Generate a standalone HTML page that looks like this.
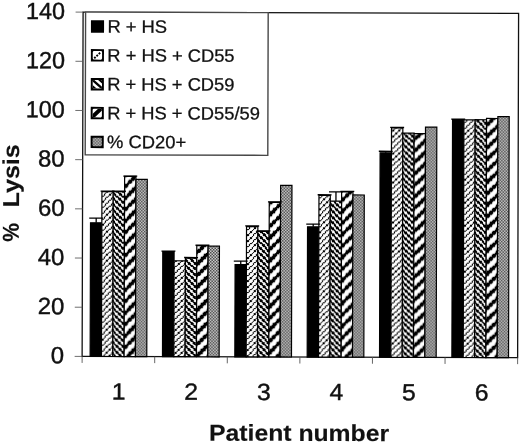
<!DOCTYPE html>
<html><head><meta charset="utf-8"><title>% Lysis by patient number</title>
<style>
html,body{margin:0;padding:0;background:#fff;}
body{width:520px;height:443px;overflow:hidden;font-family:"Liberation Sans",sans-serif;}
svg{display:block;filter:grayscale(1);}
text{font-family:"Liberation Sans",sans-serif;fill:#111;stroke:#111;stroke-width:0.15px;}
.tk{font-size:23.4px;stroke-width:0.42px;}
.lg{font-size:17.9px;stroke-width:0.3px;}
.ti{font-size:23px;font-weight:bold;}
</style></head><body>
<svg width="520" height="443" viewBox="0 0 520 443">
<defs>
<pattern id="p2" width="23" height="23" patternUnits="userSpaceOnUse" patternTransform="translate(0,0)"><rect width="23" height="23" fill="#fff"/><path d="M3.9,-0.1h2.2v1.2h-2.2zM9.9,-0.1h2.2v1.2h-2.2zM15.9,-0.1h1.2v1.2h-1.2zM21.9,-0.1h1.2v1.2h-1.2zM2.9,0.9h1.2v2.2h-1.2zM8.9,0.9h1.2v2.2h-1.2zM13.9,0.9h2.2v2.2h-2.2zM19.9,0.9h2.2v2.2h-2.2zM0.9,2.9h2.2v1.2h-2.2zM6.9,2.9h2.2v1.2h-2.2zM12.9,2.9h1.2v1.2h-1.2zM18.9,2.9h1.2v1.2h-1.2zM-0.1,3.9h1.2v2.2h-1.2zM5.9,3.9h1.2v2.2h-1.2zM11.9,3.9h1.2v2.2h-1.2zM16.9,3.9h2.2v2.2h-2.2zM3.9,5.9h2.2v1.2h-2.2zM9.9,5.9h2.2v1.2h-2.2zM15.9,5.9h1.2v1.2h-1.2zM21.9,5.9h1.2v1.2h-1.2zM2.9,6.9h1.2v2.2h-1.2zM8.9,6.9h1.2v2.2h-1.2zM13.9,6.9h2.2v2.2h-2.2zM19.9,6.9h2.2v2.2h-2.2zM0.9,8.9h2.2v1.2h-2.2zM6.9,8.9h2.2v1.2h-2.2zM12.9,8.9h1.2v1.2h-1.2zM18.9,8.9h1.2v1.2h-1.2zM-0.1,9.9h1.2v2.2h-1.2zM5.9,9.9h1.2v2.2h-1.2zM11.9,9.9h1.2v2.2h-1.2zM16.9,9.9h2.2v2.2h-2.2zM3.9,11.9h2.2v1.2h-2.2zM9.9,11.9h2.2v1.2h-2.2zM15.9,11.9h1.2v1.2h-1.2zM21.9,11.9h1.2v1.2h-1.2zM2.9,12.9h1.2v1.2h-1.2zM8.9,12.9h1.2v1.2h-1.2zM13.9,12.9h2.2v1.2h-2.2zM19.9,12.9h2.2v1.2h-2.2zM0.9,13.9h2.2v2.2h-2.2zM6.9,13.9h2.2v2.2h-2.2zM12.9,13.9h1.2v2.2h-1.2zM18.9,13.9h1.2v2.2h-1.2zM-0.1,15.9h1.2v1.2h-1.2zM5.9,15.9h1.2v1.2h-1.2zM11.9,15.9h1.2v1.2h-1.2zM16.9,15.9h2.2v1.2h-2.2zM3.9,16.9h2.2v2.2h-2.2zM9.9,16.9h2.2v2.2h-2.2zM15.9,16.9h1.2v2.2h-1.2zM21.9,16.9h1.2v2.2h-1.2zM2.9,18.9h1.2v1.2h-1.2zM8.9,18.9h1.2v1.2h-1.2zM13.9,18.9h2.2v1.2h-2.2zM19.9,18.9h2.2v1.2h-2.2zM0.9,19.9h2.2v2.2h-2.2zM6.9,19.9h2.2v2.2h-2.2zM12.9,19.9h1.2v2.2h-1.2zM18.9,19.9h1.2v2.2h-1.2zM-0.1,21.9h1.2v1.2h-1.2zM5.9,21.9h1.2v1.2h-1.2zM11.9,21.9h1.2v1.2h-1.2zM16.9,21.9h2.2v1.2h-2.2z" fill="#000"/></pattern>
<pattern id="p3" width="23" height="23" patternUnits="userSpaceOnUse" patternTransform="translate(0,0)"><rect width="23" height="23" fill="#fff"/><path d="M-0.1,-0.1h1.2v1.2h-1.2zM0.9,-0.1h2.2v1.2h-2.2zM5.9,-0.1h1.2v1.2h-1.2zM6.9,-0.1h2.2v1.2h-2.2zM11.9,-0.1h1.2v1.2h-1.2zM12.9,-0.1h1.2v1.2h-1.2zM16.9,-0.1h2.2v1.2h-2.2zM18.9,-0.1h1.2v1.2h-1.2zM0.9,0.9h2.2v2.2h-2.2zM2.9,0.9h1.2v2.2h-1.2zM6.9,0.9h2.2v2.2h-2.2zM8.9,0.9h1.2v2.2h-1.2zM12.9,0.9h1.2v2.2h-1.2zM13.9,0.9h2.2v2.2h-2.2zM18.9,0.9h1.2v2.2h-1.2zM19.9,0.9h2.2v2.2h-2.2zM2.9,2.9h1.2v1.2h-1.2zM3.9,2.9h2.2v1.2h-2.2zM8.9,2.9h1.2v1.2h-1.2zM9.9,2.9h2.2v1.2h-2.2zM13.9,2.9h2.2v1.2h-2.2zM15.9,2.9h1.2v1.2h-1.2zM19.9,2.9h2.2v1.2h-2.2zM21.9,2.9h1.2v1.2h-1.2zM-0.1,3.9h1.2v2.2h-1.2zM3.9,3.9h2.2v2.2h-2.2zM5.9,3.9h1.2v2.2h-1.2zM9.9,3.9h2.2v2.2h-2.2zM11.9,3.9h1.2v2.2h-1.2zM15.9,3.9h1.2v2.2h-1.2zM16.9,3.9h2.2v2.2h-2.2zM21.9,3.9h1.2v2.2h-1.2zM-0.1,5.9h1.2v1.2h-1.2zM0.9,5.9h2.2v1.2h-2.2zM5.9,5.9h1.2v1.2h-1.2zM6.9,5.9h2.2v1.2h-2.2zM11.9,5.9h1.2v1.2h-1.2zM12.9,5.9h1.2v1.2h-1.2zM16.9,5.9h2.2v1.2h-2.2zM18.9,5.9h1.2v1.2h-1.2zM0.9,6.9h2.2v2.2h-2.2zM2.9,6.9h1.2v2.2h-1.2zM6.9,6.9h2.2v2.2h-2.2zM8.9,6.9h1.2v2.2h-1.2zM12.9,6.9h1.2v2.2h-1.2zM13.9,6.9h2.2v2.2h-2.2zM18.9,6.9h1.2v2.2h-1.2zM19.9,6.9h2.2v2.2h-2.2zM2.9,8.9h1.2v1.2h-1.2zM3.9,8.9h2.2v1.2h-2.2zM8.9,8.9h1.2v1.2h-1.2zM9.9,8.9h2.2v1.2h-2.2zM13.9,8.9h2.2v1.2h-2.2zM15.9,8.9h1.2v1.2h-1.2zM19.9,8.9h2.2v1.2h-2.2zM21.9,8.9h1.2v1.2h-1.2zM-0.1,9.9h1.2v2.2h-1.2zM3.9,9.9h2.2v2.2h-2.2zM5.9,9.9h1.2v2.2h-1.2zM9.9,9.9h2.2v2.2h-2.2zM11.9,9.9h1.2v2.2h-1.2zM15.9,9.9h1.2v2.2h-1.2zM16.9,9.9h2.2v2.2h-2.2zM21.9,9.9h1.2v2.2h-1.2zM-0.1,11.9h1.2v1.2h-1.2zM0.9,11.9h2.2v1.2h-2.2zM5.9,11.9h1.2v1.2h-1.2zM6.9,11.9h2.2v1.2h-2.2zM11.9,11.9h1.2v1.2h-1.2zM12.9,11.9h1.2v1.2h-1.2zM16.9,11.9h2.2v1.2h-2.2zM18.9,11.9h1.2v1.2h-1.2zM0.9,12.9h2.2v1.2h-2.2zM2.9,12.9h1.2v1.2h-1.2zM6.9,12.9h2.2v1.2h-2.2zM8.9,12.9h1.2v1.2h-1.2zM12.9,12.9h1.2v1.2h-1.2zM13.9,12.9h2.2v1.2h-2.2zM18.9,12.9h1.2v1.2h-1.2zM19.9,12.9h2.2v1.2h-2.2zM2.9,13.9h1.2v2.2h-1.2zM3.9,13.9h2.2v2.2h-2.2zM8.9,13.9h1.2v2.2h-1.2zM9.9,13.9h2.2v2.2h-2.2zM13.9,13.9h2.2v2.2h-2.2zM15.9,13.9h1.2v2.2h-1.2zM19.9,13.9h2.2v2.2h-2.2zM21.9,13.9h1.2v2.2h-1.2zM-0.1,15.9h1.2v1.2h-1.2zM3.9,15.9h2.2v1.2h-2.2zM5.9,15.9h1.2v1.2h-1.2zM9.9,15.9h2.2v1.2h-2.2zM11.9,15.9h1.2v1.2h-1.2zM15.9,15.9h1.2v1.2h-1.2zM16.9,15.9h2.2v1.2h-2.2zM21.9,15.9h1.2v1.2h-1.2zM-0.1,16.9h1.2v2.2h-1.2zM0.9,16.9h2.2v2.2h-2.2zM5.9,16.9h1.2v2.2h-1.2zM6.9,16.9h2.2v2.2h-2.2zM11.9,16.9h1.2v2.2h-1.2zM12.9,16.9h1.2v2.2h-1.2zM16.9,16.9h2.2v2.2h-2.2zM18.9,16.9h1.2v2.2h-1.2zM0.9,18.9h2.2v1.2h-2.2zM2.9,18.9h1.2v1.2h-1.2zM6.9,18.9h2.2v1.2h-2.2zM8.9,18.9h1.2v1.2h-1.2zM12.9,18.9h1.2v1.2h-1.2zM13.9,18.9h2.2v1.2h-2.2zM18.9,18.9h1.2v1.2h-1.2zM19.9,18.9h2.2v1.2h-2.2zM2.9,19.9h1.2v2.2h-1.2zM3.9,19.9h2.2v2.2h-2.2zM8.9,19.9h1.2v2.2h-1.2zM9.9,19.9h2.2v2.2h-2.2zM13.9,19.9h2.2v2.2h-2.2zM15.9,19.9h1.2v2.2h-1.2zM19.9,19.9h2.2v2.2h-2.2zM21.9,19.9h1.2v2.2h-1.2zM-0.1,21.9h1.2v1.2h-1.2zM3.9,21.9h2.2v1.2h-2.2zM5.9,21.9h1.2v1.2h-1.2zM9.9,21.9h2.2v1.2h-2.2zM11.9,21.9h1.2v1.2h-1.2zM15.9,21.9h1.2v1.2h-1.2zM16.9,21.9h2.2v1.2h-2.2zM21.9,21.9h1.2v1.2h-1.2z" fill="#000"/></pattern>
<pattern id="p4" width="23" height="23" patternUnits="userSpaceOnUse" patternTransform="translate(0,0)"><rect width="23" height="23" fill="#fff"/><path d="M-0.15,-0.15h1.3v1.3h-1.3zM0.85,-0.15h2.3v1.3h-2.3zM9.85,-0.15h2.3v1.3h-2.3zM11.85,-0.15h1.3v1.3h-1.3zM12.85,-0.15h1.3v1.3h-1.3zM21.85,-0.15h1.3v1.3h-1.3zM-0.15,0.85h1.3v2.3h-1.3zM8.85,0.85h1.3v2.3h-1.3zM9.85,0.85h2.3v2.3h-2.3zM11.85,0.85h1.3v2.3h-1.3zM19.85,0.85h2.3v2.3h-2.3zM21.85,0.85h1.3v2.3h-1.3zM6.85,2.85h2.3v1.3h-2.3zM8.85,2.85h1.3v1.3h-1.3zM9.85,2.85h2.3v1.3h-2.3zM18.85,2.85h1.3v1.3h-1.3zM19.85,2.85h2.3v1.3h-2.3zM21.85,2.85h1.3v1.3h-1.3zM5.85,3.85h1.3v2.3h-1.3zM6.85,3.85h2.3v2.3h-2.3zM8.85,3.85h1.3v2.3h-1.3zM16.85,3.85h2.3v2.3h-2.3zM18.85,3.85h1.3v2.3h-1.3zM19.85,3.85h2.3v2.3h-2.3zM3.85,5.85h2.3v1.3h-2.3zM5.85,5.85h1.3v1.3h-1.3zM6.85,5.85h2.3v1.3h-2.3zM15.85,5.85h1.3v1.3h-1.3zM16.85,5.85h2.3v1.3h-2.3zM18.85,5.85h1.3v1.3h-1.3zM2.85,6.85h1.3v2.3h-1.3zM3.85,6.85h2.3v2.3h-2.3zM5.85,6.85h1.3v2.3h-1.3zM13.85,6.85h2.3v2.3h-2.3zM15.85,6.85h1.3v2.3h-1.3zM16.85,6.85h2.3v2.3h-2.3zM0.85,8.85h2.3v1.3h-2.3zM2.85,8.85h1.3v1.3h-1.3zM3.85,8.85h2.3v1.3h-2.3zM12.85,8.85h1.3v1.3h-1.3zM13.85,8.85h2.3v1.3h-2.3zM15.85,8.85h1.3v1.3h-1.3zM-0.15,9.85h1.3v2.3h-1.3zM0.85,9.85h2.3v2.3h-2.3zM2.85,9.85h1.3v2.3h-1.3zM11.85,9.85h1.3v2.3h-1.3zM12.85,9.85h1.3v2.3h-1.3zM13.85,9.85h2.3v2.3h-2.3zM-0.15,11.85h1.3v1.3h-1.3zM0.85,11.85h2.3v1.3h-2.3zM9.85,11.85h2.3v1.3h-2.3zM11.85,11.85h1.3v1.3h-1.3zM12.85,11.85h1.3v1.3h-1.3zM21.85,11.85h1.3v1.3h-1.3zM-0.15,12.85h1.3v1.3h-1.3zM8.85,12.85h1.3v1.3h-1.3zM9.85,12.85h2.3v1.3h-2.3zM11.85,12.85h1.3v1.3h-1.3zM19.85,12.85h2.3v1.3h-2.3zM21.85,12.85h1.3v1.3h-1.3zM6.85,13.85h2.3v2.3h-2.3zM8.85,13.85h1.3v2.3h-1.3zM9.85,13.85h2.3v2.3h-2.3zM18.85,13.85h1.3v2.3h-1.3zM19.85,13.85h2.3v2.3h-2.3zM21.85,13.85h1.3v2.3h-1.3zM5.85,15.85h1.3v1.3h-1.3zM6.85,15.85h2.3v1.3h-2.3zM8.85,15.85h1.3v1.3h-1.3zM16.85,15.85h2.3v1.3h-2.3zM18.85,15.85h1.3v1.3h-1.3zM19.85,15.85h2.3v1.3h-2.3zM3.85,16.85h2.3v2.3h-2.3zM5.85,16.85h1.3v2.3h-1.3zM6.85,16.85h2.3v2.3h-2.3zM15.85,16.85h1.3v2.3h-1.3zM16.85,16.85h2.3v2.3h-2.3zM18.85,16.85h1.3v2.3h-1.3zM2.85,18.85h1.3v1.3h-1.3zM3.85,18.85h2.3v1.3h-2.3zM5.85,18.85h1.3v1.3h-1.3zM13.85,18.85h2.3v1.3h-2.3zM15.85,18.85h1.3v1.3h-1.3zM16.85,18.85h2.3v1.3h-2.3zM0.85,19.85h2.3v2.3h-2.3zM2.85,19.85h1.3v2.3h-1.3zM3.85,19.85h2.3v2.3h-2.3zM12.85,19.85h1.3v2.3h-1.3zM13.85,19.85h2.3v2.3h-2.3zM15.85,19.85h1.3v2.3h-1.3zM-0.15,21.85h1.3v1.3h-1.3zM0.85,21.85h2.3v1.3h-2.3zM2.85,21.85h1.3v1.3h-1.3zM11.85,21.85h1.3v1.3h-1.3zM12.85,21.85h1.3v1.3h-1.3zM13.85,21.85h2.3v1.3h-2.3z" fill="#000"/></pattern>
<pattern id="p5" width="3" height="3" patternUnits="userSpaceOnUse"><rect width="3" height="3" fill="#d4d4d4"/><path d="M0,0h1.5v1.5h-1.5zM1.5,1.5h1.5v1.5h-1.5z" fill="#444"/></pattern>
</defs>
<rect width="520" height="443" fill="#fff"/>
<g transform="rotate(0.16 220 225)">

<rect x="82.5" y="12.5" width="435.5" height="344.3" fill="#fff" stroke="#111" stroke-width="1.3"/>
<line x1="75.0" y1="356.80" x2="82.5" y2="356.80" stroke="#555" stroke-width="0.85"/>
<text class="tk" x="64.5" y="363.80" text-anchor="end" textLength="13.3" lengthAdjust="spacingAndGlyphs">0</text>
<line x1="75.0" y1="307.61" x2="82.5" y2="307.61" stroke="#555" stroke-width="0.85"/>
<text class="tk" x="64.5" y="314.61" text-anchor="end" textLength="26.6" lengthAdjust="spacingAndGlyphs">20</text>
<line x1="75.0" y1="258.43" x2="82.5" y2="258.43" stroke="#555" stroke-width="0.85"/>
<text class="tk" x="64.5" y="265.43" text-anchor="end" textLength="26.6" lengthAdjust="spacingAndGlyphs">40</text>
<line x1="75.0" y1="209.24" x2="82.5" y2="209.24" stroke="#555" stroke-width="0.85"/>
<text class="tk" x="64.5" y="216.24" text-anchor="end" textLength="26.6" lengthAdjust="spacingAndGlyphs">60</text>
<line x1="75.0" y1="160.06" x2="82.5" y2="160.06" stroke="#555" stroke-width="0.85"/>
<text class="tk" x="64.5" y="167.06" text-anchor="end" textLength="26.6" lengthAdjust="spacingAndGlyphs">80</text>
<line x1="75.0" y1="110.87" x2="82.5" y2="110.87" stroke="#555" stroke-width="0.85"/>
<text class="tk" x="64.5" y="117.87" text-anchor="end" textLength="39.0" lengthAdjust="spacingAndGlyphs">100</text>
<line x1="75.0" y1="61.69" x2="82.5" y2="61.69" stroke="#555" stroke-width="0.85"/>
<text class="tk" x="64.5" y="68.69" text-anchor="end" textLength="39.0" lengthAdjust="spacingAndGlyphs">120</text>
<line x1="75.0" y1="12.50" x2="82.5" y2="12.50" stroke="#555" stroke-width="0.85"/>
<text class="tk" x="64.5" y="19.50" text-anchor="end" textLength="39.0" lengthAdjust="spacingAndGlyphs">140</text>
<line x1="82.50" y1="356.8" x2="82.50" y2="363.3" stroke="#555" stroke-width="0.9"/>
<line x1="155.08" y1="356.8" x2="155.08" y2="363.3" stroke="#555" stroke-width="0.9"/>
<line x1="227.67" y1="356.8" x2="227.67" y2="363.3" stroke="#555" stroke-width="0.9"/>
<line x1="300.25" y1="356.8" x2="300.25" y2="363.3" stroke="#555" stroke-width="0.9"/>
<line x1="372.83" y1="356.8" x2="372.83" y2="363.3" stroke="#555" stroke-width="0.9"/>
<line x1="445.42" y1="356.8" x2="445.42" y2="363.3" stroke="#555" stroke-width="0.9"/>
<line x1="518.00" y1="356.8" x2="518.00" y2="363.3" stroke="#555" stroke-width="0.9"/>
<text class="tk" x="119.09" y="399.8" text-anchor="middle" textLength="13.75" lengthAdjust="spacingAndGlyphs">1</text>
<text class="tk" x="191.68" y="399.8" text-anchor="middle" textLength="13.75" lengthAdjust="spacingAndGlyphs">2</text>
<text class="tk" x="264.26" y="399.8" text-anchor="middle" textLength="13.75" lengthAdjust="spacingAndGlyphs">3</text>
<text class="tk" x="336.84" y="399.8" text-anchor="middle" textLength="13.75" lengthAdjust="spacingAndGlyphs">4</text>
<text class="tk" x="409.43" y="399.8" text-anchor="middle" textLength="13.75" lengthAdjust="spacingAndGlyphs">5</text>
<text class="tk" x="482.01" y="399.8" text-anchor="middle" textLength="13.75" lengthAdjust="spacingAndGlyphs">6</text>
<rect x="90.50" y="223.20" width="11.33" height="133.60" fill="#000" stroke="#000" stroke-width="1.2"/>
<rect x="101.83" y="191.90" width="11.33" height="164.90" fill="url(#p2)" stroke="#000" stroke-width="1.2"/>
<rect x="113.16" y="191.90" width="11.33" height="164.90" fill="url(#p3)" stroke="#000" stroke-width="1.2"/>
<rect x="124.49" y="176.60" width="11.33" height="180.20" fill="url(#p4)" stroke="#000" stroke-width="1.2"/>
<rect x="135.82" y="179.60" width="11.33" height="177.20" fill="url(#p5)" stroke="#000" stroke-width="1.2"/>
<path d="M96.17,223.20 L96.17,218.50 M89.20,218.50 L103.13,218.50" stroke="#000" stroke-width="1.3" fill="none"/>
<path d="M107.50,191.90 L107.50,191.50 M100.53,191.50 L114.46,191.50" stroke="#000" stroke-width="1.3" fill="none"/>
<path d="M118.83,191.90 L118.83,191.50 M111.86,191.50 L125.79,191.50" stroke="#000" stroke-width="1.3" fill="none"/>
<path d="M130.16,176.60 L130.16,176.40 M123.19,176.40 L137.12,176.40" stroke="#000" stroke-width="1.3" fill="none"/>
<rect x="162.85" y="251.80" width="11.33" height="105.00" fill="#000" stroke="#000" stroke-width="1.2"/>
<rect x="174.18" y="260.90" width="11.33" height="95.90" fill="url(#p2)" stroke="#000" stroke-width="1.2"/>
<rect x="185.51" y="258.20" width="11.33" height="98.60" fill="url(#p3)" stroke="#000" stroke-width="1.2"/>
<rect x="196.84" y="245.70" width="11.33" height="111.10" fill="url(#p4)" stroke="#000" stroke-width="1.2"/>
<rect x="208.17" y="246.20" width="11.33" height="110.60" fill="url(#p5)" stroke="#000" stroke-width="1.2"/>
<path d="M168.51,251.80 L168.51,251.30 M161.55,251.30 L175.48,251.30" stroke="#000" stroke-width="1.3" fill="none"/>
<path d="M191.17,258.20 L191.17,257.60 M184.21,257.60 L198.14,257.60" stroke="#000" stroke-width="1.3" fill="none"/>
<path d="M202.50,245.70 L202.50,245.30 M195.54,245.30 L209.47,245.30" stroke="#000" stroke-width="1.3" fill="none"/>
<rect x="235.20" y="264.50" width="11.33" height="92.30" fill="#000" stroke="#000" stroke-width="1.2"/>
<rect x="246.53" y="226.50" width="11.33" height="130.30" fill="url(#p2)" stroke="#000" stroke-width="1.2"/>
<rect x="257.86" y="231.30" width="11.33" height="125.50" fill="url(#p3)" stroke="#000" stroke-width="1.2"/>
<rect x="269.19" y="202.20" width="11.33" height="154.60" fill="url(#p4)" stroke="#000" stroke-width="1.2"/>
<rect x="280.52" y="185.20" width="11.33" height="171.60" fill="url(#p5)" stroke="#000" stroke-width="1.2"/>
<path d="M240.86,264.50 L240.86,261.00 M233.90,261.00 L247.83,261.00" stroke="#000" stroke-width="1.3" fill="none"/>
<path d="M252.19,226.50 L252.19,225.90 M245.23,225.90 L259.16,225.90" stroke="#000" stroke-width="1.3" fill="none"/>
<path d="M263.53,231.30 L263.53,230.80 M256.56,230.80 L270.49,230.80" stroke="#000" stroke-width="1.3" fill="none"/>
<path d="M274.86,202.20 L274.86,201.80 M267.89,201.80 L281.82,201.80" stroke="#000" stroke-width="1.3" fill="none"/>
<rect x="307.55" y="226.60" width="11.33" height="130.20" fill="#000" stroke="#000" stroke-width="1.2"/>
<rect x="318.88" y="195.00" width="11.33" height="161.80" fill="url(#p2)" stroke="#000" stroke-width="1.2"/>
<rect x="330.21" y="200.80" width="11.33" height="156.00" fill="url(#p3)" stroke="#000" stroke-width="1.2"/>
<rect x="341.54" y="191.50" width="11.33" height="165.30" fill="url(#p4)" stroke="#000" stroke-width="1.2"/>
<rect x="352.87" y="194.60" width="11.33" height="162.20" fill="url(#p5)" stroke="#000" stroke-width="1.2"/>
<path d="M313.21,226.60 L313.21,223.80 M306.25,223.80 L320.18,223.80" stroke="#000" stroke-width="1.3" fill="none"/>
<path d="M324.54,195.00 L324.54,194.50 M317.58,194.50 L331.51,194.50" stroke="#000" stroke-width="1.3" fill="none"/>
<path d="M335.88,200.80 L335.88,191.50 M328.91,191.50 L342.84,191.50" stroke="#000" stroke-width="1.3" fill="none"/>
<path d="M347.20,191.50 L347.20,191.00 M340.24,191.00 L354.17,191.00" stroke="#000" stroke-width="1.3" fill="none"/>
<rect x="379.90" y="152.30" width="11.33" height="204.50" fill="#000" stroke="#000" stroke-width="1.2"/>
<rect x="391.23" y="127.40" width="11.33" height="229.40" fill="url(#p2)" stroke="#000" stroke-width="1.2"/>
<rect x="402.56" y="132.60" width="11.33" height="224.20" fill="url(#p3)" stroke="#000" stroke-width="1.2"/>
<rect x="413.89" y="133.00" width="11.33" height="223.80" fill="url(#p4)" stroke="#000" stroke-width="1.2"/>
<rect x="425.22" y="126.50" width="11.33" height="230.30" fill="url(#p5)" stroke="#000" stroke-width="1.2"/>
<path d="M385.56,152.30 L385.56,150.80 M378.60,150.80 L392.53,150.80" stroke="#000" stroke-width="1.3" fill="none"/>
<path d="M396.89,127.40 L396.89,127.00 M389.93,127.00 L403.86,127.00" stroke="#000" stroke-width="1.3" fill="none"/>
<rect x="452.25" y="119.00" width="11.33" height="237.80" fill="#000" stroke="#000" stroke-width="1.2"/>
<rect x="463.58" y="119.20" width="11.33" height="237.60" fill="url(#p2)" stroke="#000" stroke-width="1.2"/>
<rect x="474.91" y="119.00" width="11.33" height="237.80" fill="url(#p3)" stroke="#000" stroke-width="1.2"/>
<rect x="486.24" y="117.70" width="11.33" height="239.10" fill="url(#p4)" stroke="#000" stroke-width="1.2"/>
<rect x="497.57" y="115.80" width="11.33" height="241.00" fill="url(#p5)" stroke="#000" stroke-width="1.2"/>
<path d="M457.92,119.00 L457.92,118.50 M450.95,118.50 L464.88,118.50" stroke="#000" stroke-width="1.3" fill="none"/>
<rect x="85" y="12.5" width="182.6" height="142.7" fill="#fff" stroke="#484848" stroke-width="1.4"/>
<rect x="90.4" y="20.60" width="13.1" height="12.4" fill="#000"/>
<text class="lg" x="106.9" y="32.90" textLength="59.7" lengthAdjust="spacingAndGlyphs">R + HS</text>
<clipPath id="c1"><rect x="92.30000000000001" y="51.37" width="9.3" height="8.600000000000001" rx="1.3"/></clipPath>
<rect x="90.4" y="49.47" width="13.1" height="12.4" fill="#000"/>
<rect x="92.30000000000001" y="51.37" width="9.3" height="8.600000000000001" rx="1.3" fill="#fff"/>
<path d="M93.75,58.67 L100.15,52.67" stroke="#000" stroke-width="1.9" stroke-dasharray="1.9 1.2" fill="none"/>
<text class="lg" x="106.9" y="61.77" textLength="127.2" lengthAdjust="spacingAndGlyphs">R + HS + CD55</text>
<clipPath id="c2"><rect x="92.30000000000001" y="80.24" width="9.3" height="8.600000000000001" rx="1.3"/></clipPath>
<rect x="90.4" y="78.34" width="13.1" height="12.4" fill="#000"/>
<rect x="92.30000000000001" y="80.24" width="9.3" height="8.600000000000001" rx="1.3" fill="#fff"/>
<g clip-path="url(#c2)"><path d="M88.95,77.54 L104.95,91.54" stroke="#000" stroke-width="2.3" fill="none"/><path d="M96.35,77.54 L112.35,91.54 M81.55,77.54 L97.55,91.54" stroke="#000" stroke-width="2.4" fill="none"/></g>
<text class="lg" x="106.9" y="90.64" textLength="127.2" lengthAdjust="spacingAndGlyphs">R + HS + CD59</text>
<clipPath id="c3"><rect x="92.30000000000001" y="109.11" width="9.3" height="8.600000000000001" rx="1.3"/></clipPath>
<rect x="90.4" y="107.21" width="13.1" height="12.4" fill="#000"/>
<rect x="92.30000000000001" y="109.11" width="9.3" height="8.600000000000001" rx="1.3" fill="#fff"/>
<g clip-path="url(#c3)"><path d="M88.55,120.61 L104.55,105.41" stroke="#000" stroke-width="4.0" fill="none"/></g>
<text class="lg" x="106.9" y="119.51" textLength="152.7" lengthAdjust="spacingAndGlyphs">R + HS + CD55/59</text>
<clipPath id="c4"><rect x="92.30000000000001" y="137.98" width="9.3" height="8.600000000000001" rx="1.3"/></clipPath>
<rect x="90.4" y="136.08" width="13.1" height="12.4" fill="#000"/>
<rect x="92.30000000000001" y="137.98" width="9.3" height="8.600000000000001" rx="1.3" fill="url(#p5)"/>
<text class="lg" x="106.9" y="148.38" textLength="79.0" lengthAdjust="spacingAndGlyphs">% CD20+</text>
<text class="ti" x="299.7" y="440.7" text-anchor="middle" textLength="180" lengthAdjust="spacingAndGlyphs">Patient number</text>
<text class="ti" transform="translate(18.9,208.1) rotate(-90)" textLength="63.4" lengthAdjust="spacingAndGlyphs">Lysis</text>
<text class="ti" transform="translate(18.9,242.2) rotate(-90)" textLength="18.7" lengthAdjust="spacingAndGlyphs">%</text>
</g></svg></body></html>
